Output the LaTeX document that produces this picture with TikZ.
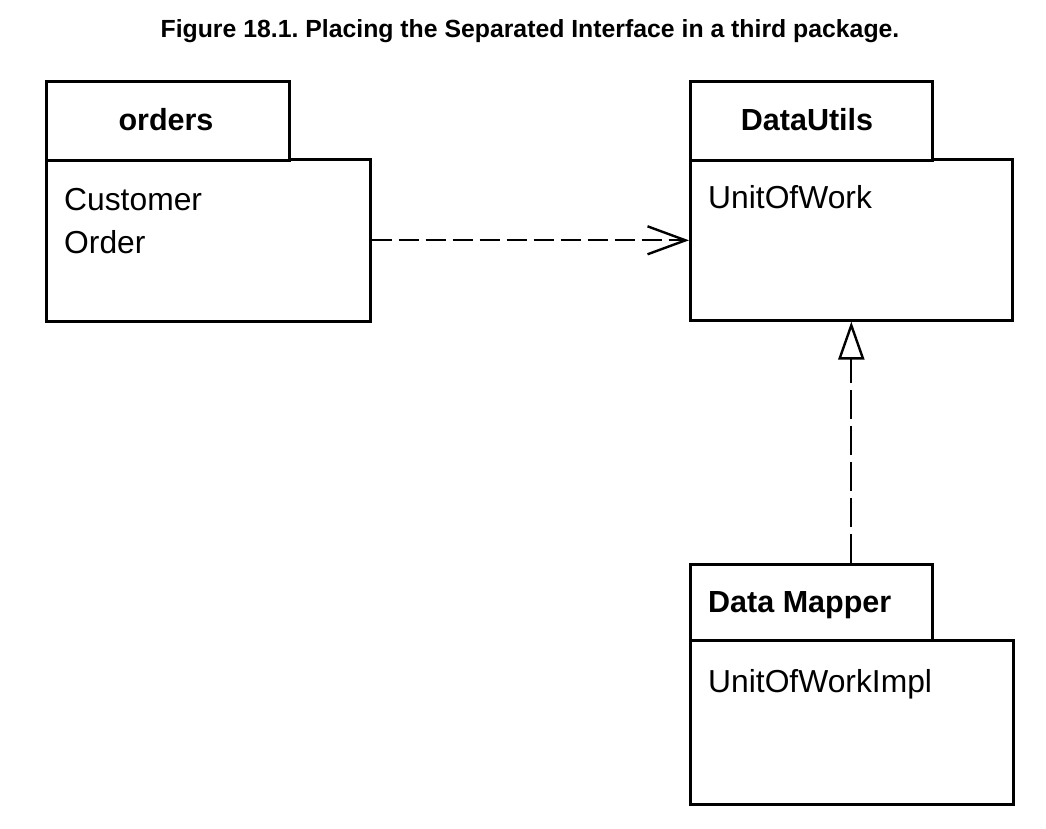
\documentclass[tikz,border=0pt]{standalone}
\usepackage{fontspec}
\setmainfont{Liberation Sans}
\usetikzlibrary{arrows.meta}
\frenchspacing
\begin{document}
\begin{tikzpicture}[x=1pt,y=-1pt,
  box/.style={draw=black, line width=2.6pt, inner sep=0pt, anchor=north west, fill=white},
  tabtext/.style={font=\fontsize{30.5}{36}\selectfont\bfseries, anchor=base west, inner sep=0pt},
  itemtext/.style={font=\fontsize{31.8}{36}\selectfont, anchor=base west, inner sep=0pt},
  depline/.style={line width=2pt, dash pattern=on 20pt off 7pt, -{Straight Barb[length=38pt,width=28pt,line width=2.4pt]}},
  realline/.style={line width=2pt, dash pattern=on 29pt off 7pt, -{Triangle[open,fill=white,length=38pt,width=26pt,line width=2.4pt]}}
]
\useasboundingbox (0,0) rectangle (1046,828);
% title
\node[font=\fontsize{24.8}{30}\selectfont\bfseries, anchor=base, inner sep=0pt] (title) at (530,37) {Figure 18.1. Placing the Separated Interface in a third package.};
% orders package
\node[box, minimum width=324pt, minimum height=162pt] (ordersbody) at (45,158) {};
\node[box, minimum width=243pt, minimum height=79pt] (orderstab) at (45,80) {};
\node[tabtext, anchor=base] (orderslabel) at (166,130) {orders};
\node[itemtext] (customer) at (64,210) {Customer};
\node[itemtext] (order) at (64,253) {Order};
% DataUtils package
\node[box, minimum width=322pt, minimum height=161pt] (utilsbody) at (689,158) {};
\node[box, minimum width=242pt, minimum height=79pt] (utilstab) at (689,80) {};
\node[tabtext, anchor=base] (utilslabel) at (807,130) {DataUtils};
\node[itemtext] (uow) at (708,208) {UnitOfWork};
% Data Mapper package
\node[box, minimum width=323pt, minimum height=164pt] (mapperbody) at (689,639) {};
\node[box, minimum width=242pt, minimum height=76pt] (mappertab) at (689,563) {};
\node[tabtext] (mapperlabel) at (708,612) {Data Mapper};
\node[itemtext] (uowimpl) at (708,692) {UnitOfWorkImpl};
% connectors
\draw[depline] (ordersbody.east) -- (ordersbody.east -| utilsbody.west);
\coordinate (mstart) at (utilsbody.south |- mappertab.north);
\draw[realline] (mstart) -- (utilsbody.south);
\end{tikzpicture}
\end{document}
